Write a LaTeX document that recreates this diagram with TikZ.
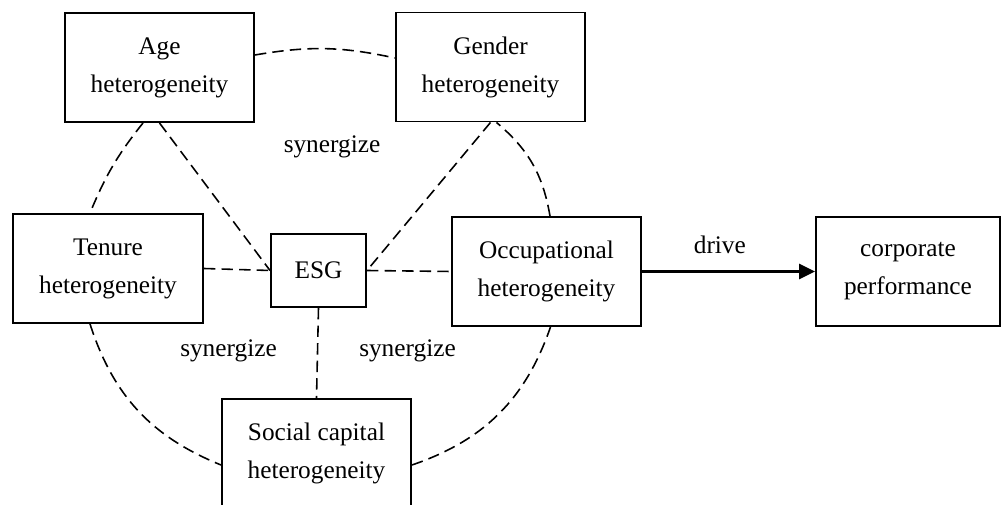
\documentclass[tikz,border=0pt]{standalone}
\usepackage{fontspec}
\setmainfont{Liberation Serif}
\usetikzlibrary{arrows.meta}

\tikzset{
  hbox/.style={draw, line width=1.1pt, minimum width=3.78cm, minimum height=2.18cm, align=center, inner sep=0pt},
  syn/.style={line width=0.9pt, dash pattern=on 6.5pt off 3.5pt},
}

\begin{document}
\begin{tikzpicture}[font=\fontsize{14.4}{21.6}\selectfont]
  %%%%% START %%%%%
  \useasboundingbox (0,0) rectangle (20.02,10.10);

  \node[hbox] (age) at (3.19, 8.75) {Age\\heterogeneity};
  \node[hbox] (gender) at (9.81, 8.76) {Gender\\heterogeneity};
  \node[hbox, minimum width=3.80cm] (tenure) at (2.16, 4.73) {Tenure\\heterogeneity};
  \node[hbox, minimum width=1.90cm, minimum height=1.46cm] (esg) at (6.37, 4.69) {ESG};
  \node[hbox] (occ) at (10.93, 4.67) {Occupational\\heterogeneity};
  \node[hbox, minimum width=3.68cm] (corp) at (18.16, 4.67) {corporate\\performance};
  \node[hbox] (social) at (6.33, 1.03) {Social capital\\heterogeneity};

  % outer ring
  \draw[syn] ([yshift=0.25cm]age.east) to[bend left=11] ([yshift=0.18cm]gender.west);
  \draw[syn] ([xshift=-0.33cm]age.south) to[bend right=8] ([xshift=-0.36cm]tenure.north);
  \draw[syn] ([xshift=-0.36cm]tenure.south) to[bend right=25] ([yshift=-0.23cm]social.west);
  \draw[syn] ([yshift=-0.23cm]social.east) to[bend right=26] ([xshift=0.08cm]occ.south);
  \draw[syn] ([xshift=0.07cm]occ.north) to[bend right=20] ([xshift=0.12cm]gender.south);

  % spokes to ESG
  \draw[syn] (age.south) -- (esg.west);
  \draw[syn] (gender.south) -- (esg.east);
  \draw[syn] (tenure.east) -- (esg.west);
  \draw[syn] (esg.east) -- (occ.west);
  \draw[syn] (esg.south) -- (social.north);

  \node (syntop) at (6.64, 7.16) {synergize};
  \node (synleft) at (4.57, 3.08) {synergize};
  \node (synright) at (8.15, 3.08) {synergize};

  \draw[line width=1.7pt, -{Triangle[length=0.32cm, width=0.30cm]}] (occ.east) -- node[above=6pt, pos=0.45] (drv) {drive} (corp.west);
  %%%%% END %%%%%
\end{tikzpicture}
\end{document}
